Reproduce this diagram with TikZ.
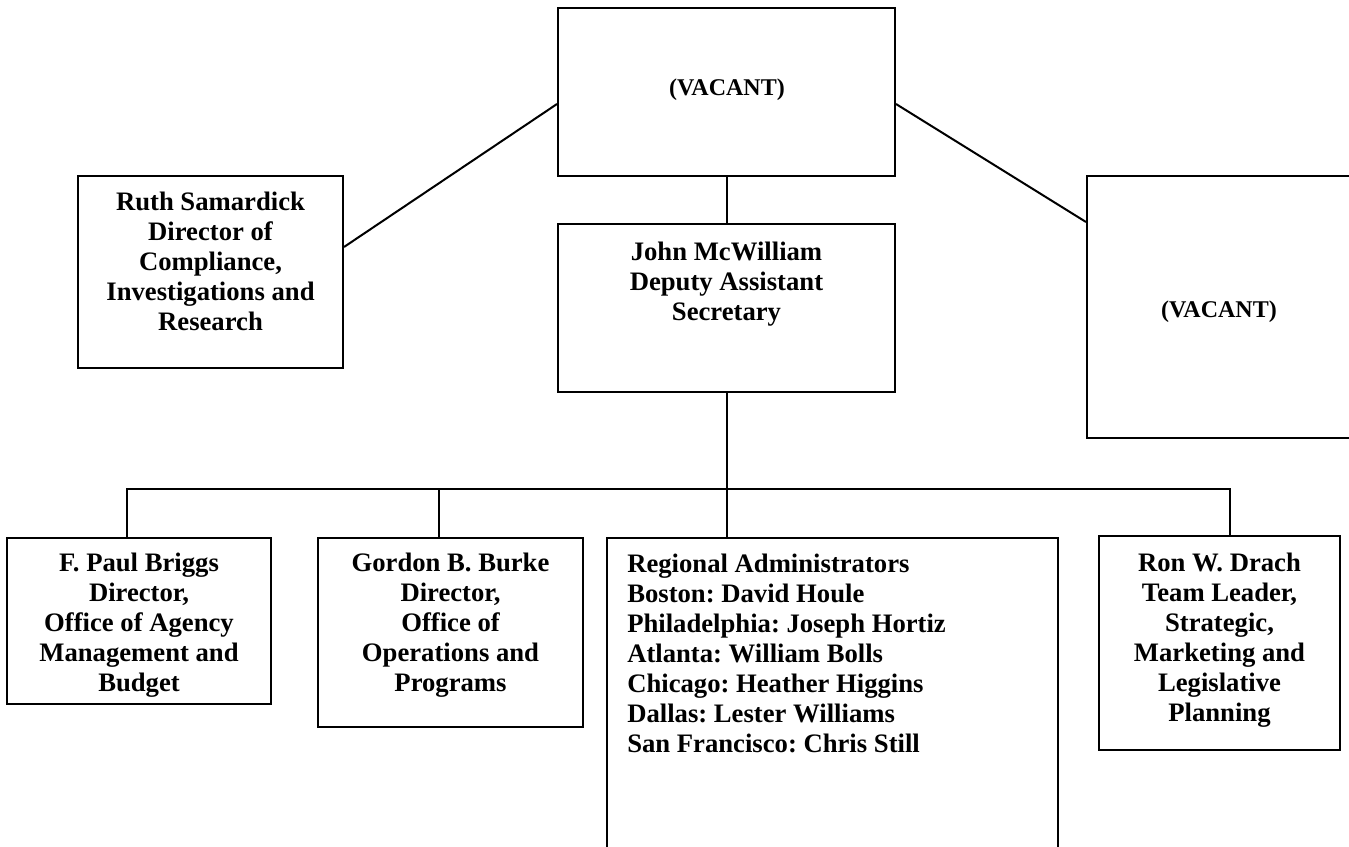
\documentclass[tikz,border=0pt]{standalone}
\usepackage{fontspec}
\setmainfont{Liberation Serif}
\frenchspacing
\usetikzlibrary{fit}

\tikzset{
  orgbox/.style={draw, line width=1.5pt, inner sep=0pt, rectangle},
  orgline/.style={line width=1.5pt},
  orgtext/.style={font=\bfseries\fontsize{20}{22.5}\selectfont, align=center, inner sep=0pt, anchor=north},
  vactext/.style={font=\bfseries\fontsize{18}{21}\selectfont, inner sep=0pt},
}

\begin{document}
\begin{tikzpicture}[x=0.75pt,y=0.75pt,yscale=-1,xscale=1]
	\useasboundingbox (0,0) rectangle (1349,846);

	%Shape: Rectangle [top]
	\node[orgbox, fit={(558,8) (895,176)}] (chief) {};
	%Shape: Rectangle [left]
	\node[orgbox, fit={(78,176) (343,368)}] (ruth) {};
	%Shape: Rectangle [deputy]
	\node[orgbox, fit={(558,224) (895,392)}] (deputy) {};
	%Shape: Rectangle [right, runs off the page]
	\node[orgbox, fit={(1087,176) (1352,438)}] (vacright) {};
	%Shape: Rectangle [row of offices]
	\node[orgbox, fit={(7,538) (271,704)}] (briggs) {};
	\node[orgbox, fit={(318,538) (583,727)}] (burke) {};
	\node[orgbox, fit={(607,538) (1058,860)}] (regional) {};
	\node[orgbox, fit={(1099,536) (1340,750)}] (drach) {};

	%Straight Lines
	\draw[orgline] ([yshift=-18.75pt]ruth.east) -- ([yshift=9pt]chief.west);
	\draw[orgline] ([yshift=9pt]chief.east) -- ([yshift=-63.75pt]vacright.west);
	\draw[orgline] (chief.south) -- (deputy.north);
	\path (deputy.south) ++(0,96) coordinate (bus);
	\draw[orgline] (deputy.south) -- (bus);
	\draw[orgline] ([xshift=-9pt]briggs.north) |- (bus) -| ([xshift=7.9pt]drach.north);
	\draw[orgline] ([xshift=-8.6pt]burke.north) -- ([xshift=-8.6pt]burke.north |- bus);
	\draw[orgline] (bus) -- (bus |- regional.north);

	% Text Node
	\node[vactext] (chieftxt) at (727,90) {(VACANT)};
	% Text Node
	\node[vactext] (vacrighttxt) at (1219,312) {(VACANT)};
	% Text Node
	\node[orgtext] (ruthtxt) at ([yshift=12.75pt]ruth.north) {Ruth Samardick\\Director of\\Compliance,\\Investigations and\\Research};
	% Text Node
	\node[orgtext] (deputytxt) at ([yshift=14.25pt]deputy.north) {John McWilliam\\Deputy Assistant\\Secretary};
	% Text Node (cut off at the foot of its box)
	\begin{scope}
		\clip ([yshift=6.75pt]briggs.south west) rectangle (briggs.north east);
		\node[orgtext] (briggstxt) at ([yshift=12pt]briggs.north) {F. Paul Briggs\\Director,\\Office of Agency\\Management and\\Budget};
	\end{scope}
	% Text Node
	\node[orgtext] (burketxt) at ([yshift=12pt]burke.north) {Gordon B. Burke\\Director,\\Office of\\Operations and\\Programs};
	% Text Node
	\node[orgtext, align=left, anchor=north west] (regionaltxt) at (627,554) {Regional Administrators\\Boston: David Houle\\Philadelphia: Joseph Hortiz\\Atlanta: William Bolls\\Chicago: Heather Higgins\\Dallas: Lester Williams\\San Francisco: Chris Still};
	% Text Node
	\node[orgtext] (drachtxt) at ([yshift=13.5pt]drach.north) {Ron W. Drach\\Team Leader,\\Strategic,\\Marketing and\\Legislative\\Planning};

\end{tikzpicture}
\end{document}
